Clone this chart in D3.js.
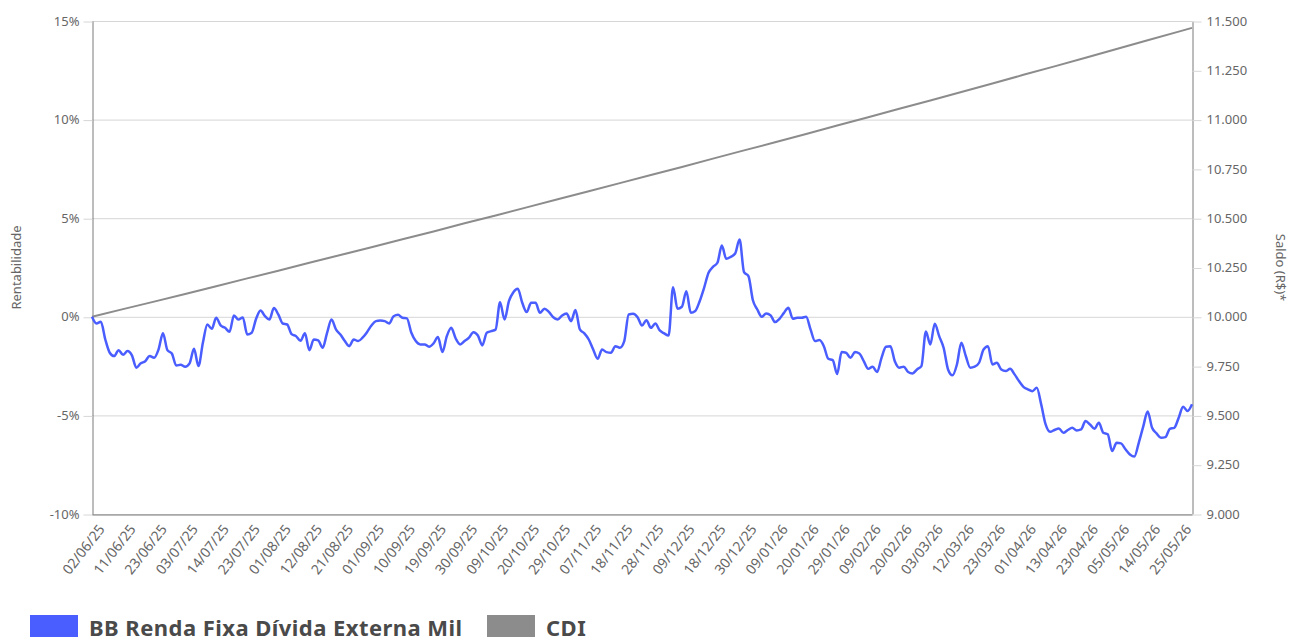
<!DOCTYPE html>
<html>
<head>
<meta charset="utf-8">
<script src="https://cdn.jsdelivr.net/npm/d3@7"></script>
<style>
  html, body { margin: 0; padding: 0; background: #fff; }
  svg { display: block; font-family: "Noto Sans", "Open Sans", sans-serif; }
</style>
</head>
<body>
<svg id="chart" width="1289" height="637"></svg>
<script>
// ---- DATA ----
const xTickLabels = ["02/06/25","11/06/25","23/06/25","03/07/25","14/07/25","23/07/25","01/08/25","12/08/25","21/08/25","01/09/25","10/09/25","19/09/25","30/09/25","09/10/25","20/10/25","29/10/25","07/11/25","18/11/25","28/11/25","09/12/25","18/12/25","30/12/25","09/01/26","20/01/26","29/01/26","09/02/26","20/02/26","03/03/26","12/03/26","23/03/26","01/04/26","13/04/26","23/04/26","05/05/26","14/05/26","25/05/26"];

// BB Renda Fixa Dívida Externa Mil — cumulative return (%) per business day
const fundValues = [
 0.00,-0.34,-0.25,-1.15,-1.82,-1.99,-1.69,-1.93,-1.74,-1.96,
-2.58,-2.36,-2.25,-1.99,-2.08,-1.66,-0.84,-1.69,-1.86,-2.47,
-2.43,-2.53,-2.36,-1.62,-2.50,-1.32,-0.39,-0.61,-0.05,-0.44,
-0.56,-0.76, 0.07,-0.14,-0.03,-0.90,-0.81,-0.10, 0.32, 0.03,
-0.14, 0.44, 0.12,-0.34,-0.39,-0.88,-0.98,-1.22,-0.84,-1.69,
-1.15,-1.20,-1.57,-0.81,-0.14,-0.64,-0.90,-1.23,-1.49,-1.15,
-1.23,-1.06,-0.78,-0.44,-0.22,-0.19,-0.22,-0.34, 0.03, 0.10,
-0.05,-0.08,-0.81,-1.23,-1.40,-1.40,-1.52,-1.35,-1.03,-1.79,
-0.98,-0.56,-1.10,-1.40,-1.23,-1.06,-0.78,-0.95,-1.45,-0.81,
-0.73,-0.64, 0.74,-0.14, 0.79, 1.25, 1.42, 0.71, 0.24, 0.71,
 0.71, 0.20, 0.41, 0.25,-0.02,-0.14, 0.07, 0.17,-0.22, 0.34,
-0.64,-0.84,-1.15,-1.66,-2.13,-1.66,-1.79,-1.82,-1.49,-1.57,
-1.23, 0.12, 0.15,-0.02,-0.44,-0.17,-0.56,-0.34,-0.69,-0.84,
-0.95, 1.50, 0.41, 0.51, 1.30, 0.20, 0.29, 0.79, 1.47, 2.23,
 2.53, 2.74, 3.61, 2.94, 3.04, 3.21, 3.92, 2.26, 2.06, 0.84,
 0.37, 0.00, 0.17, 0.07,-0.27,-0.10, 0.20, 0.46,-0.10,-0.05,
-0.05, 0.00,-0.64,-1.23,-1.18,-1.49,-2.13,-2.20,-2.90,-1.79,
-1.82,-2.08,-1.79,-1.86,-2.25,-2.64,-2.53,-2.80,-2.08,-1.52,
-1.49,-2.25,-2.58,-2.53,-2.80,-2.87,-2.67,-2.50,-0.75,-1.40,
-0.35,-0.98,-1.57,-2.67,-2.97,-2.42,-1.32,-1.99,-2.58,-2.53,
-2.33,-1.66,-1.49,-2.42,-2.33,-2.67,-2.75,-2.64,-2.92,-3.26,
-3.55,-3.68,-3.77,-3.60,-4.44,-5.46,-5.83,-5.74,-5.66,-5.88,
-5.74,-5.63,-5.76,-5.71,-5.29,-5.46,-5.68,-5.37,-5.88,-5.96,
-6.81,-6.39,-6.42,-6.72,-6.98,-7.09,-6.39,-5.57,-4.80,-5.63,
-5.91,-6.13,-6.10,-5.68,-5.63,-5.12,-4.56,-4.78,-4.44
];

// CDI — cumulative return (%) read at these day indices
const cdiIndex = [0,7,14,21,28,35,42,49,56,63,70,77,84,91,98,105,112,119,126,133,140,147,154,161,168,175,182,189,196,203,210,217,224,231,238,245,248];
const cdiValues = [0,0.39,0.77,1.16,1.55,1.95,2.34,2.74,3.13,3.53,3.93,4.33,4.74,5.14,5.55,5.96,6.37,6.78,7.19,7.60,8.02,8.44,8.85,9.27,9.70,10.12,10.55,10.97,11.40,11.83,12.27,12.70,13.14,13.58,14.02,14.46,14.65];

const leftTicks = [-10, -5, 0, 5, 10, 15];
const rightTicks = [9000, 9250, 9500, 9750, 10000, 10250, 10500, 10750, 11000, 11250, 11500];
const seriesNames = ["BB Renda Fixa Dívida Externa Mil", "CDI"];
const seriesColors = ["#4a5dff", "#8c8c8c"];

// ---- LAYOUT ----
const W = 1289, H = 637;
const m = { left: 92, right: 97, top: 21, bottom: 123 };
const x0 = m.left, x1 = W - m.right, y0 = m.top, y1 = H - m.bottom;

const svg = d3.select("#chart");

const x = d3.scaleLinear().domain([0, fundValues.length - 1]).range([x0, x1]);
const y = d3.scaleLinear().domain([-10, 15]).range([y1, y0]);
const yR = d3.scaleLinear().domain([9000, 11500]).range([y1, y0]);

const ptBR = d3.formatLocale({ decimal: ",", thousands: ".", grouping: [3], currency: ["R$ ", ""] });
const fmtR = ptBR.format(",.0f");

const textColor = "#666";
const gridColor = "#d6d6d6";
const axisColor = "#7a7a7a";

// gridlines
svg.append("g").selectAll("line").data(leftTicks).join("line")
  .attr("x1", x0).attr("x2", x1)
  .attr("y1", d => y(d) + 0.5).attr("y2", d => y(d) + 0.5)
  .attr("stroke", gridColor).attr("stroke-width", 1);

// left axis
const gL = svg.append("g").attr("transform", `translate(${x0 + 0.5},0)`)
  .call(d3.axisLeft(y).tickValues(leftTicks).tickSize(9).tickSizeOuter(0).tickPadding(4).tickFormat(d => d + "%"));
gL.select(".domain").attr("stroke", axisColor);
gL.selectAll(".tick line").attr("stroke", gridColor).attr("transform", "translate(0,0.5)");
gL.selectAll(".tick text").attr("fill", textColor).style("font-size", "13px").style("font-family", "'Noto Sans', sans-serif");

// right axis
const gR = svg.append("g").attr("transform", `translate(${x1 + 0.5},0)`)
  .call(d3.axisRight(yR).tickValues(rightTicks).tickSize(9).tickSizeOuter(0).tickPadding(5).tickFormat(fmtR));
gR.select(".domain").attr("stroke", axisColor);
gR.selectAll(".tick line").attr("stroke", gridColor).attr("transform", "translate(0,0.5)");
gR.selectAll(".tick text").attr("fill", textColor).style("font-size", "13px").style("font-family", "'Noto Sans', sans-serif");

// bottom axis
const tickIdx = d3.range(0, fundValues.length, 7);
const gB = svg.append("g").attr("transform", `translate(0,${y1 + 0.5})`)
  .call(d3.axisBottom(x).tickValues(tickIdx).tickSize(0).tickSizeOuter(0).tickFormat((d, i) => xTickLabels[i]));
gB.select(".domain").attr("stroke", axisColor);
gB.selectAll(".tick text")
  .attr("fill", textColor).style("font-size", "14px").style("font-family", "'Noto Sans', sans-serif")
  .attr("text-anchor", "end")
  .attr("dy", null).attr("y", null)
  .attr("transform", "translate(13,15) rotate(-52)");

// axis titles
svg.append("text").text("Rentabilidade")
  .attr("transform", `translate(21,${(y0 + y1) / 2}) rotate(-90)`)
  .attr("text-anchor", "middle").attr("fill", textColor).style("font-size", "13px");
svg.append("text").text("Saldo (R$)*")
  .attr("transform", `translate(1276,${(y0 + y1) / 2}) rotate(90)`)
  .attr("text-anchor", "middle").attr("fill", textColor).style("font-size", "13px");

// lines
const cdiData = cdiIndex.map((d, i) => [d, cdiValues[i]]);
svg.append("path").datum(cdiData)
  .attr("fill", "none").attr("stroke", seriesColors[1]).attr("stroke-width", 2)
  .attr("d", d3.line().x(d => x(d[0])).y(d => y(d[1])));

svg.append("path").datum(fundValues)
  .attr("fill", "none").attr("stroke", seriesColors[0]).attr("stroke-width", 2.5)
  .attr("stroke-linejoin", "round")
  .attr("d", d3.line().x((d, i) => x(i)).y(d => y(d)).curve(d3.curveMonotoneX));

// legend
const legend = svg.append("g");
const legendItems = [
  { name: seriesNames[0], color: seriesColors[0], x: 30 },
  { name: seriesNames[1], color: seriesColors[1], x: 487 }
];
legendItems.forEach(it => {
  legend.append("rect").attr("x", it.x).attr("y", 615).attr("width", 48).attr("height", 24).attr("fill", it.color);
  legend.append("text").text(it.name).attr("x", it.x + 59).attr("y", 636)
    .attr("fill", "#4a4a4a").style("font-size", "22px").style("font-weight", "bold")
    .style("letter-spacing", "0.45px");
});
</script>
</body>
</html>
